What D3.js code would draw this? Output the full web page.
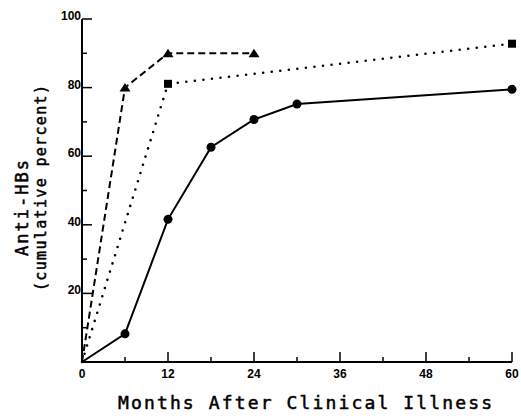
<!DOCTYPE html>
<head>
<meta charset="utf-8">
<style>
body { margin: 0; background: #fff; }
.tick-label { font: bold 12px "Liberation Sans", sans-serif; }
.title { font-family: "DejaVu Sans Mono", monospace; stroke: #000; stroke-width: 0.5; }
</style>
</head>
<body>
<svg width="521" height="416"></svg>
<script src="https://d3js.org/d3.v7.min.js"></script>
<script>
// values
var months = [0, 6, 12, 18, 24, 30, 60];
var solid = [0, 8.2, 41.6, 62.6, 70.7, 75.2, 79.5];          // circles
var dottedMonths = [0, 12, 60];
var dotted = [0, 81.1, 92.8];                                // squares
var dashedMonths = [0, 6, 12, 24];
var dashed = [0, 80, 90, 90];                                // triangles
var xTicks = [0, 12, 24, 36, 48, 60];
var yTicks = [20, 40, 60, 80, 100];

var svg = d3.select("svg");

var x = d3.scaleLinear().domain([0, 60]).range([82, 512]);
var y = d3.scaleLinear().domain([0, 100]).range([362, 19]);

// axes
svg.append("line").attr("x1", x(0)).attr("x2", x(0)).attr("y1", y(0)).attr("y2", y(100))
    .attr("stroke", "#000").attr("stroke-width", 2);
svg.append("line").attr("x1", x(0)).attr("x2", x(60)).attr("y1", y(0)).attr("y2", y(0))
    .attr("stroke", "#000").attr("stroke-width", 2);

// y ticks (inside), majors every 20, minors every 10
svg.selectAll(".ytick").data(d3.range(10, 101, 10)).enter().append("line")
    .attr("x1", x(0)).attr("x2", function(d) { return x(0) + (d % 20 === 0 ? 10 : 5); })
    .attr("y1", y).attr("y2", y)
    .attr("stroke", "#000").attr("stroke-width", 1.5);
svg.selectAll(".ylab").data(yTicks).enter().append("text")
    .attr("class", "tick-label")
    .attr("x", x(0) - 1).attr("y", function(d) { return y(d) + 1; })
    .attr("text-anchor", "end")
    .text(function(d) { return d; });

// x ticks (inside), majors every 12, minors every 6
svg.selectAll(".xtick").data(d3.range(6, 61, 6)).enter().append("line")
    .attr("x1", x).attr("x2", x)
    .attr("y1", y(0)).attr("y2", function(d) { return y(0) - (d % 12 === 0 ? 10 : 5); })
    .attr("stroke", "#000").attr("stroke-width", 1.5);
svg.selectAll(".xlab").data(xTicks).enter().append("text")
    .attr("class", "tick-label")
    .attr("x", x).attr("y", y(0) + 16)
    .attr("text-anchor", "middle")
    .text(function(d) { return d; });

var line = d3.line().x(function(d) { return x(d[0]); }).y(function(d) { return y(d[1]); });

function series(mx, vals, dash, cap, w) {
  var pts = mx.map(function(m, i) { return [m, vals[i]]; });
  svg.append("path").datum(pts)
      .attr("d", line)
      .attr("fill", "none").attr("stroke", "#000").attr("stroke-width", w)
      .attr("stroke-dasharray", dash)
      .attr("stroke-linecap", cap);
  return pts.slice(1);
}

var sq = series(dottedMonths, dotted, "0,8.6", "round", 2.6);
var tr = series(dashedMonths, dashed, "7,4", "butt", 2);
var ci = series(months, solid, null, "butt", 2);

svg.selectAll(".circ").data(ci).enter().append("circle")
    .attr("cx", function(d) { return x(d[0]); }).attr("cy", function(d) { return y(d[1]); })
    .attr("r", 4.5).attr("fill", "#000");
svg.selectAll(".sq").data(sq).enter().append("rect")
    .attr("x", function(d) { return x(d[0]) - 4; }).attr("y", function(d) { return y(d[1]) - 4; })
    .attr("width", 8).attr("height", 8).attr("fill", "#000");
svg.selectAll(".tri").data(tr).enter().append("path")
    .attr("transform", function(d) { return "translate(" + x(d[0]) + "," + y(d[1]) + ")"; })
    .attr("d", "M0,-4.5L5.5,4L-5.5,4Z").attr("fill", "#000");

// titles
svg.append("text").attr("class", "title")
    .attr("x", 305).attr("y", 409).attr("text-anchor", "middle")
    .attr("font-size", 18).attr("textLength", 374).attr("lengthAdjust", "spacing")
    .text("Months After Clinical Illness");
svg.append("text").attr("class", "title")
    .attr("transform", "translate(28,208) rotate(-90)").attr("text-anchor", "middle")
    .attr("font-size", 17).attr("textLength", 96).attr("lengthAdjust", "spacing")
    .text("Anti-HBs");
svg.append("text").attr("class", "title")
    .attr("transform", "translate(46,188) rotate(-90)").attr("text-anchor", "middle")
    .attr("font-size", 15).attr("textLength", 206).attr("lengthAdjust", "spacing")
    .text("(cumulative percent)");
</script>
</body>
